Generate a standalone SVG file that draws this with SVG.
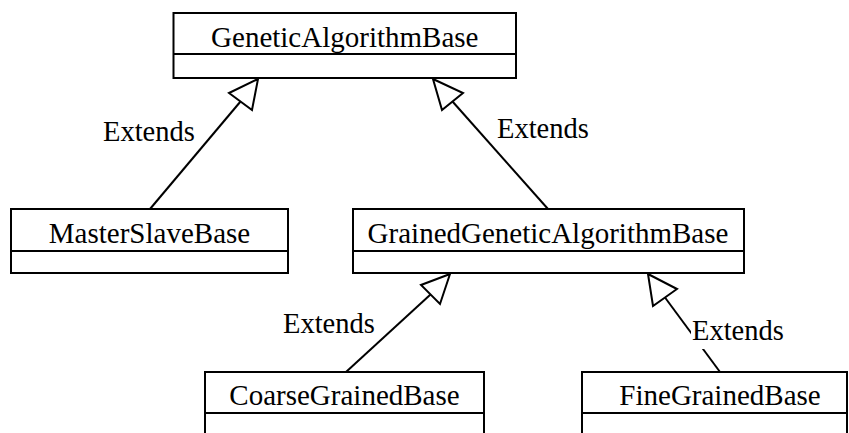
<svg xmlns="http://www.w3.org/2000/svg" width="849" height="433" viewBox="0 0 849 433">
<style>
.box{fill:#fff;stroke:#000;stroke-width:2}
.div{stroke:#000;stroke-width:2}
.name{font-family:"Liberation Serif","Times New Roman",serif;font-size:29px;fill:#000}
.lbl{font-family:"Liberation Serif","Times New Roman",serif;font-size:28.5px;fill:#000}
.edge{stroke:#000;stroke-width:2;fill:none}
.head{fill:#fff;stroke:#000;stroke-width:2;stroke-linejoin:miter}
</style>
<rect width="849" height="433" fill="#fff"/>
<g id="connectors">
  <g id="e1">
    <line class="edge" x1="150" y1="209" x2="240.5" y2="101.5"/>
    <polygon class="head" points="258,79 229,93 252,110"/>
    <text class="lbl" x="103" y="141">Extends</text>
  </g>
  <g id="e2">
    <line class="edge" x1="548" y1="209" x2="452.5" y2="101.5"/>
    <polygon class="head" points="433,79 463,93 442,110"/>
    <text class="lbl" x="497" y="138">Extends</text>
  </g>
  <g id="e3">
    <line class="edge" x1="346" y1="372" x2="430.5" y2="294.5"/>
    <polygon class="head" points="450,274 421,285 440,304"/>
    <text class="lbl" x="283" y="333">Extends</text>
  </g>
  <g id="e4">
    <line class="edge" x1="720" y1="372" x2="665" y2="297.5"/>
    <polygon class="head" points="648,274 677,289 653,306"/>
    <rect x="691" y="318" width="95" height="31" fill="#fff"/>
    <text class="lbl" x="692" y="340">Extends</text>
  </g>
</g>
<g id="GeneticAlgorithmBase">
  <rect class="box" x="173.5" y="13" width="342.5" height="65"/>
  <line class="div" x1="173.5" y1="54" x2="516" y2="54"/>
  <text class="name" x="344.75" y="47" text-anchor="middle">GeneticAlgorithmBase</text>
</g>
<g id="MasterSlaveBase">
  <rect class="box" x="11" y="209" width="277" height="64"/>
  <line class="div" x1="11" y1="251" x2="288" y2="251"/>
  <text class="name" x="149.5" y="243" text-anchor="middle">MasterSlaveBase</text>
</g>
<g id="GrainedGeneticAlgorithmBase">
  <rect class="box" x="353" y="209" width="391" height="64"/>
  <line class="div" x1="353" y1="251" x2="744" y2="251"/>
  <text class="name" x="548" y="243" text-anchor="middle">GrainedGeneticAlgorithmBase</text>
</g>
<g id="CoarseGrainedBase">
  <rect class="box" x="205" y="372" width="279" height="65"/>
  <line class="div" x1="205" y1="413" x2="484" y2="413"/>
  <text class="name" x="344.5" y="405" text-anchor="middle">CoarseGrainedBase</text>
</g>
<g id="FineGrainedBase">
  <rect class="box" x="582" y="372" width="265" height="65"/>
  <line class="div" x1="582" y1="413" x2="847" y2="413"/>
  <text class="name" x="720" y="405" text-anchor="middle">FineGrainedBase</text>
</g>
</svg>
